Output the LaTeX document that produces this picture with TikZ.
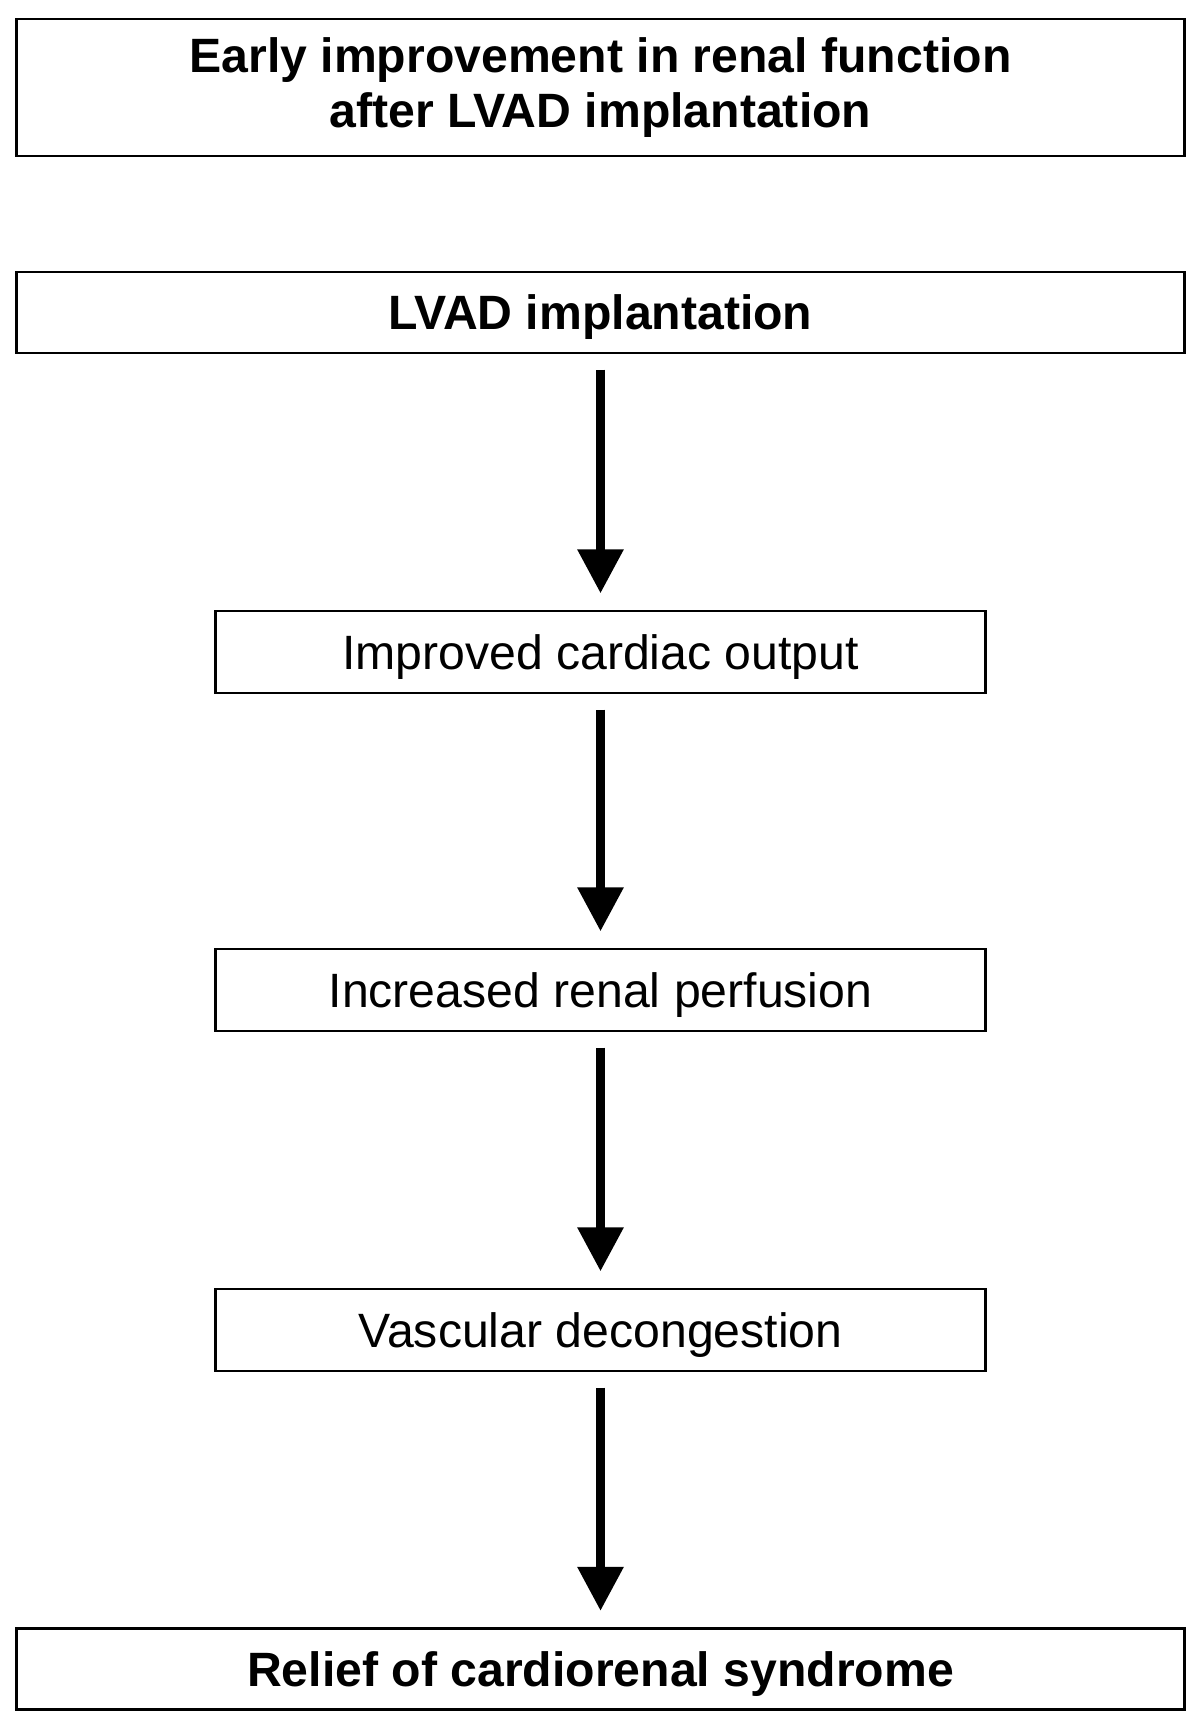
\documentclass[tikz,border=0pt]{standalone}
\usepackage{fontspec}
\setmainfont{Liberation Sans}
\usetikzlibrary{arrows.meta}

\begin{document}
\begin{tikzpicture}[x=0.01cm, y=-0.01cm,
    box/.style={draw, line width=0.8pt, inner sep=0pt, align=center,
        font=\fontsize{13.7}{15.6}\selectfont},
    widebox/.style={box, minimum width=11.67cm, minimum height=0.81cm,
        font=\fontsize{13.7}{15.6}\selectfont\bfseries},
    stepbox/.style={box, minimum width=7.69cm, minimum height=0.82cm},
    oneline/.style={text depth=0pt},
    flow/.style={line width=2.6pt, -{Triangle[width=12.5pt, length=12.5pt]},
        shorten <=4.3pt, shorten >=4.6pt}]

    % 画布大小
    \useasboundingbox (0, 0) rectangle (1200, 1728);

    % 标题框
    \node[widebox, minimum height=1.37cm] (title) at (600.5, 87.5)
        {Early improvement in renal function\\after LVAD implantation};

    % 流程框
    \node[widebox, oneline]  (lvad)    at (600.5, 312.5) {LVAD implantation};
    \node[stepbox, oneline]  (output)  at (600.5, 652)   {Improved cardiac output};
    \node[stepbox, oneline]  (perfuse) at (600.5, 990)   {Increased renal perfusion};
    \node[stepbox, oneline]  (decong)  at (600.5, 1330)  {Vascular decongestion};
    \node[widebox, oneline]  (relief)  at (600.5, 1669)  {Relief of cardiorenal syndrome};

    % 箭头
    \draw[flow] (lvad) -- (output);
    \draw[flow] (output) -- (perfuse);
    \draw[flow] (perfuse) -- (decong);
    \draw[flow] (decong) -- (relief);

\end{tikzpicture}
\end{document}
